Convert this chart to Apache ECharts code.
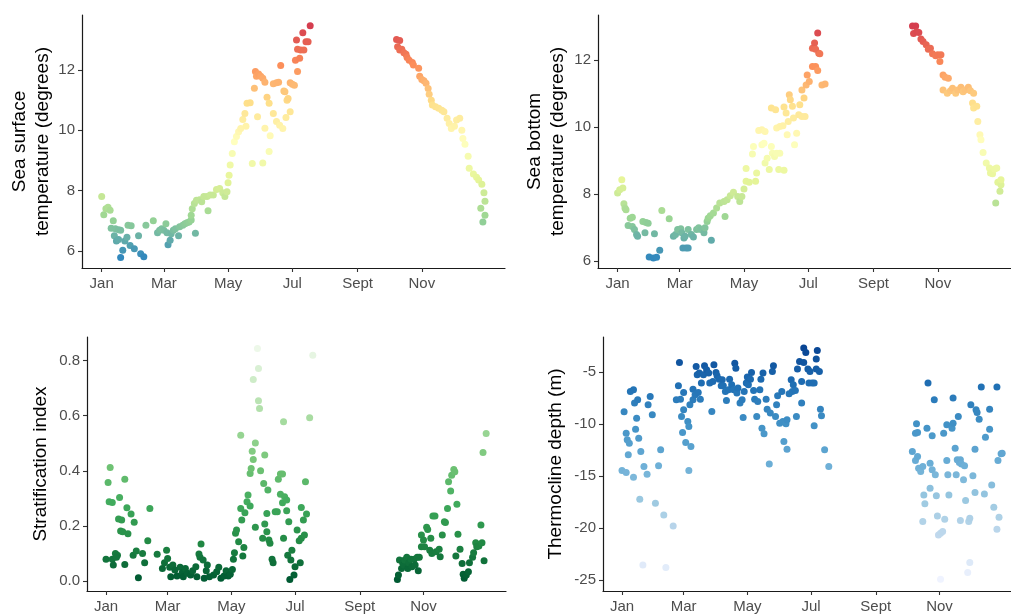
<!DOCTYPE html>
<html>
<head>
<meta charset="utf-8">
<script src="https://cdn.jsdelivr.net/npm/echarts@6/dist/echarts.min.js"></script>
<style>
  html, body { margin: 0; padding: 0; background: #ffffff; }
  #chart { width: 1011px; height: 614px; }
</style>
</head>
<body>
<div id="chart"></div>
<script>
// Day-of-year tick positions and their month names
const monthTicks = [1, 60, 121, 182, 244, 305];
const monthLabels = ['Jan', 'Mar', 'May', 'Jul', 'Sept', 'Nov'];

// Y tick values for each panel
const surfaceTicks = [6, 8, 10, 12];
const bottomTicks = [6, 8, 10, 12];
const stratTicks = [0, 0.2, 0.4, 0.6, 0.8];
const thermoTicks = [-25, -20, -15, -10, -5];

// Sea surface temperature: [day of year, degrees]
const surfaceTemp = [
  [1,7.8],[3,7.2],[5,7.4],[7,7.45],[9,7.35],[12,7.0],[10,6.75],[14,6.73],[17,6.7],[19,6.68],
  [13,6.5],[15,6.33],[17,6.38],[19,5.78],[21,6.02],[23,6.33],[25,6.45],[26,6.85],[29,6.83],[28,6.18],
  [32,6.07],[36,6.5],[38,5.9],[41,5.8],[43,6.85],[50,7.0],[54,6.6],[56,6.68],[58,6.73],[60,6.68],
  [62,6.9],[63,6.6],[64,6.2],[66,6.35],[67,6.57],[69,6.68],[71,6.73],[74,6.5],[75,6.8],[78,6.85],
  [80,6.9],[82,6.93],[84,6.96],[86,7.02],[90,6.58],[86,7.18],[87,7.4],[89,7.57],[91,7.68],[94,7.7],
  [96,7.63],[98,7.8],[102,7.33],[101,7.8],[104,7.85],[107,7.85],[110,8.04],[113,8.07],[116,7.93],[118,7.8],
  [120,7.96],[121,8.26],[122,8.51],[123,8.85],[125,9.23],[127,9.62],[129,9.8],[131,9.95],[133,10.06],[135,10.36],
  [137,10.56],[138,10.14],[139,10.9],[142,10.92],[144,8.9],[146,11.4],[147,11.95],[148,11.8],[150,11.87],[152,11.8],
  [154,11.73],[149,10.45],[154,8.92],[156,10.07],[156,11.6],[158,11.1],[160,9.3],[161,9.82],[160,10.9],[164,11.55],
  [167,11.58],[169,11.6],[171,12.15],[164,10.56],[167,10.29],[170,10.17],[173,10.06],[174,11.31],[175,11.28],[177,11.0],
  [178,11.06],[180,11.58],[182,11.53],[176,10.43],[180,10.62],[184,11.5],[185,12.33],[187,11.95],[186,13.0],[187,12.69],
  [189,12.39],[190,12.67],[193,12.67],[192,13.24],[195,12.94],[197,12.94],[199,13.47],
  [281,13.02],[284,12.98],[282,12.78],[284,12.67],[286,12.69],[288,12.58],[290,12.53],[291,12.42],[293,12.33],[296,12.25],
  [297,12.17],[302,12.06],[303,11.8],[305,11.69],[307,11.65],[309,11.56],[311,11.39],[312,11.2],[314,11.0],[315,10.84],
  [318,10.78],[321,10.73],[324,10.67],[326,10.62],[329,10.4],[331,10.23],[333,10.06],[336,10.14],[338,10.34],[341,10.4],
  [343,10.0],[344,9.73],[346,9.54],[349,9.14],[350,8.74],[354,8.55],[357,8.44],[359,8.35],[362,8.21],[364,7.93],
  [365,7.65],[361,7.41],[365,7.18],[363,6.96]
];

// Sea bottom temperature: [day of year, degrees]
const bottomTemp = [
  [1,8.03],[3,8.13],[5,8.43],[6,8.18],[7,7.71],[8,7.58],[9,7.53],[13,7.28],[15,7.31],[11,7.06],
  [15,7.03],[17,6.94],[19,6.79],[20,6.74],[25,7.18],[28,7.15],[30,7.13],[27,6.84],[31,6.12],[35,6.09],
  [38,6.11],[41,6.32],[36,6.81],[43,7.51],[50,7.26],[54,6.74],[56,6.79],[58,6.94],[61,6.96],[62,6.84],
  [64,6.69],[63,6.39],[66,6.39],[68,6.39],[65,6.74],[68,6.94],[71,6.79],[73,6.72],[76,6.94],[78,6.99],
  [80,6.94],[83,6.84],[84,6.99],[86,7.18],[87,7.28],[90,6.62],[89,7.35],[92,7.43],[95,7.58],[98,7.73],
  [102,7.78],[103,7.33],[105,7.83],[108,7.95],[111,8.05],[115,7.93],[117,7.78],[119,7.93],[121,8.15],[123,8.38],
  [123,8.76],[126,8.35],[129,9.2],[130,9.42],[132,8.38],[133,8.63],[135,9.9],[138,9.92],[141,9.87],[138,9.47],
  [140,9.52],[141,8.93],[143,9.07],[145,8.73],[147,9.42],[148,9.22],[150,9.12],[147,10.57],[151,10.52],[152,9.97],
  [152,9.22],[155,9.22],[154,8.73],[159,8.71],[155,10.02],[158,10.04],[159,10.6],[161,10.42],[162,9.77],[163,10.17],
  [164,10.97],[165,10.82],[167,10.62],[168,10.27],[169,9.47],[171,9.82],[173,10.37],[174,10.67],[176,11.11],[178,10.87],
  [180,11.26],[181,11.56],[183,11.36],[176,10.32],[179,10.32],[186,11.81],[189,11.81],[191,11.69],[192,12.21],[186,12.36],
  [188,12.51],[189,12.33],[191,12.81],[193,12.19],[195,11.26],[198,11.29],
  [281,13.02],[284,13.02],[282,12.8],[285,12.85],[287,12.83],[289,12.63],[291,12.56],[294,12.46],[296,12.33],[298,12.36],
  [300,12.19],[303,12.13],[305,12.16],[308,12.16],[307,11.96],[310,11.56],[312,11.49],[315,11.46],[310,11.11],[314,11.01],
  [317,11.09],[319,11.16],[322,11.01],[324,11.11],[327,11.19],[329,11.06],[331,11.11],[334,11.19],[336,11.09],[339,11.01],
  [338,10.72],[339,10.57],[342,10.62],[343,10.17],[345,9.77],[346,9.62],[348,9.24],[351,8.93],[354,8.78],[355,8.63],
  [357,8.61],[359,8.75],[361,8.78],[362,8.35],[364,8.08],[365,8.28],[365,8.43],[360,7.73]
];

// Stratification index: [day of year, index]
const stratification = [
  [3,0.357],[5,0.412],[4,0.288],[7,0.285],[1,0.079],[7,0.079],[8,0.058],[10,0.10],[12,0.094],[11,0.086],
  [14,0.303],[13,0.225],[16,0.221],[15,0.182],[17,0.179],[19,0.06],[19,0.369],[21,0.266],[22,0.172],[25,0.243],
  [27,0.094],[28,0.213],[30,0.109],[32,0.012],[36,0.10],[38,0.066],[41,0.146],[43,0.263],[50,0.097],
  [55,0.046],[57,0.066],[59,0.112],[60,0.082],[62,0.05],[63,0.016],[65,0.058],[67,0.04],[69,0.018],[72,0.05],
  [74,0.03],[75,0.016],[77,0.046],[79,0.028],[82,0.022],[84,0.037],[87,0.052],[88,0.016],[90,0.098],[91,0.086],
  [92,0.134],[94,0.076],[95,0.01],[97,0.037],[98,0.058],[100,0.016],[104,0.022],[107,0.034],[109,0.05],[111,0.01],
  [114,0.018],[116,0.037],[118,0.018],[120,0.025],[122,0.042],[123,0.079],[124,0.103],[125,0.173],[126,0.185],[128,0.143],
  [130,0.263],[131,0.221],[132,0.091],[133,0.122],[130,0.529],[134,0.248],[136,0.288],[137,0.312],[139,0.272],[139,0.39],
  [140,0.408],[141,0.471],[142,0.441],[142,0.731],[144,0.501],[144,0.195],[146,0.843],[147,0.771],[147,0.654],[148,0.626],
  [149,0.4],[151,0.155],[152,0.354],[153,0.457],[153,0.207],[155,0.179],[156,0.33],[157,0.149],[158,0.137],[160,0.079],
  [161,0.066],[155,0.245],[163,0.251],[165,0.251],[166,0.369],[168,0.388],[170,0.388],[168,0.315],[170,0.284],[171,0.578],
  [171,0.155],[172,0.306],[174,0.255],[174,0.294],[176,0.215],[175,0.094],[177,0.006],[178,0.076],[179,0.112],[181,0.022],
  [182,0.052],[184,0.185],[186,0.146],[187,0.066],[188,0.155],[188,0.267],[190,0.221],[191,0.167],[192,0.36],[193,0.243],
  [196,0.592],[199,0.819],
  [280,0.006],[281,0.022],[282,0.076],[284,0.046],[285,0.066],[286,0.058],[287,0.076],[289,0.086],[290,0.046],[291,0.066],
  [293,0.079],[294,0.052],[296,0.079],[297,0.058],[299,0.086],[300,0.037],[301,0.086],[303,0.124],[303,0.167],[305,0.149],
  [306,0.124],[308,0.195],[309,0.187],[311,0.112],[312,0.155],[313,0.10],[314,0.236],[316,0.236],[317,0.106],[320,0.115],
  [321,0.088],[323,0.167],[325,0.215],[326,0.212],[328,0.263],[329,0.36],[331,0.327],[332,0.384],[334,0.405],[335,0.396],
  [337,0.279],[338,0.17],[336,0.091],[340,0.115],[342,0.064],[343,0.025],[344,0.01],[346,0.022],[348,0.034],[349,0.066],
  [352,0.086],[353,0.103],[355,0.139],[356,0.124],[358,0.127],[360,0.203],[361,0.139],[362,0.466],[363,0.074],[365,0.535]
];

// Thermocline depth: [day of year, metres]
const thermocline = [
  [1,-14.49],[5,-14.68],[3,-8.85],[5,-10.9],[6,-11.54],[8,-11.86],[7,-12.98],[9,-6.89],[12,-6.73],[12,-15.13],
  [13,-8.0],[15,-9.46],[16,-7.69],[14,-10.51],[17,-11.38],[18,-17.24],[19,-12.66],[21,-23.56],[22,-14.1],[25,-14.84],
  [26,-8.17],[28,-7.37],[30,-9.13],[33,-17.63],[36,-14.04],[38,-12.5],[41,-18.75],[43,-23.81],[50,-19.81],
  [53,-7.69],[57,-7.63],[56,-4.1],[55,-6.35],[58,-9.29],[59,-10.83],[60,-8.65],[60,-6.99],[62,-11.79],[64,-9.78],
  [65,-10.26],[65,-14.49],[66,-8.17],[67,-12.18],[69,-7.69],[69,-6.67],[71,-7.21],[72,-4.49],[73,-5.29],[74,-6.99],
  [75,-5.13],[76,-7.63],[77,-6.09],[79,-5.29],[80,-4.42],[82,-4.81],[84,-5.13],[85,-6.09],[87,-8.81],[88,-5.93],
  [89,-4.33],[91,-5.06],[92,-5.38],[94,-5.71],[96,-6.35],[97,-5.77],[98,-6.35],[100,-6.89],[101,-7.76],[103,-6.73],
  [104,-5.71],[106,-6.25],[108,-6.73],[109,-4.17],[110,-4.65],[111,-7.05],[112,-6.57],[114,-8.01],[116,-7.69],[117,-9.39],
  [118,-6.89],[120,-6.09],[121,-5.51],[122,-6.25],[124,-5.71],[125,-5.06],[127,-6.79],[128,-7.63],[130,-9.29],[131,-7.85],
  [133,-6.73],[134,-5.71],[135,-10.42],[136,-5.13],[137,-10.96],[139,-7.63],[140,-8.59],[142,-13.85],[143,-8.97],[145,-4.97],
  [146,-4.42],[148,-9.29],[149,-8.17],[150,-7.31],[152,-9.94],[154,-6.89],[155,-9.78],[156,-11.7],[158,-10.0],[159,-12.44],
  [159,-9.62],[161,-7.12],[163,-5.77],[164,-6.89],[165,-6.25],[167,-6.79],[168,-9.29],[169,-4.74],[171,-4.01],[173,-5.93],
  [173,-8.01],[175,-4.1],[175,-2.72],[177,-3.14],[179,-4.74],[180,-6.09],[181,-4.97],[183,-6.09],[185,-6.09],[185,-10.19],
  [187,-4.74],[187,-3.78],[188,-2.95],[190,-4.97],[191,-8.59],[192,-9.23],[195,-12.5],[199,-14.1],
  [279,-12.66],[282,-10.9],[283,-10.0],[284,-10.83],[282,-13.53],[284,-13.14],[285,-14.26],[287,-14.58],[289,-14.1],[290,-16.83],
  [291,-17.69],[289,-19.39],[293,-10.42],[294,-6.09],[296,-13.78],[296,-16.19],[298,-11.15],[298,-14.42],[300,-7.69],[301,-14.9],
  [302,-16.92],[303,-18.85],[304,-20.67],[306,-20.51],[308,-20.35],[306,-24.94],[310,-19.17],[309,-10.9],[312,-10.1],[312,-13.53],
  [313,-14.9],[314,-16.83],[317,-10.42],[318,-7.53],[318,-9.94],[320,-12.34],[321,-14.9],[322,-13.46],[323,-9.29],[324,-13.72],
  [325,-13.46],[326,-13.85],[328,-15.38],[329,-14.04],[330,-17.37],[325,-19.29],[332,-24.29],[334,-23.33],[333,-19.39],[334,-19.07],
  [335,-8.17],[337,-15.0],[339,-12.44],[339,-16.6],[340,-8.65],[341,-8.91],[343,-9.55],[345,-6.47],[348,-16.73],[349,-11.28],
  [353,-8.59],[353,-10.51],[355,-15.87],[357,-18.01],[360,-6.47],[360,-20.13],[361,-13.53],[362,-18.97],[364,-12.88],[365,-12.82]
];

// Colour ramps (low -> high)
const spectralRamp = ['#3288bd', '#99d594', '#e6f598', '#ffffbf', '#fee08b', '#fc8d59', '#d53e4f'];
const greensRamp = ['#005a32', '#238b45', '#41ab5d', '#74c476', '#a1d99b', '#c7e9c0', '#edf8e9'];
const bluesRamp = ['#eff3ff', '#c6dbef', '#9ecae1', '#6baed6', '#4292c6', '#2171b5', '#084594'];

const FONT = '"Liberation Sans", Arial, sans-serif';
const tickColor = '#4d4d4d';

function colMin(arr) { return Math.min.apply(null, arr.map(d => d[1])); }
function colMax(arr) { return Math.max.apply(null, arr.map(d => d[1])); }

function panelGrid(left, top, width, height) {
  return { left: left, top: top, width: width, height: height, containLabel: false, outerBoundsMode: 'none' };
}

function xAxisFor(gridIndex, min, max) {
  return {
    type: 'value', gridIndex: gridIndex, min: min, max: max,
    splitLine: { show: false },
    axisLine: { show: true, onZero: false, lineStyle: { color: '#1a1a1a', width: 1.2 } },
    axisTick: { show: true, length: 4, customValues: monthTicks, lineStyle: { color: '#333333', width: 1.1 } },
    axisLabel: {
      customValues: monthTicks, margin: 8, color: tickColor, fontSize: 15, fontFamily: FONT,
      formatter: v => monthLabels[monthTicks.indexOf(v)]
    }
  };
}

function yAxisFor(gridIndex, min, max, ticks, name, gap, fmt) {
  return {
    type: 'value', gridIndex: gridIndex, min: min, max: max,
    name: name, nameLocation: 'middle', nameGap: gap, nameRotate: 90,
    nameTextStyle: { color: '#000000', fontSize: 19, fontFamily: FONT, lineHeight: 23 },
    splitLine: { show: false },
    axisLine: { show: true, onZero: false, lineStyle: { color: '#1a1a1a', width: 1.2 } },
    axisTick: { show: true, length: 4, customValues: ticks, lineStyle: { color: '#333333', width: 1.1 } },
    axisLabel: {
      customValues: ticks, margin: 7, color: tickColor, fontSize: 15, fontFamily: FONT,
      formatter: fmt
    }
  };
}

function scatter(idx, data) {
  return {
    type: 'scatter', xAxisIndex: idx, yAxisIndex: idx, data: data,
    symbol: 'circle', symbolSize: 7,
    itemStyle: { opacity: 1 }
  };
}

function ramp(idx, data, colors) {
  return {
    type: 'continuous', show: false, seriesIndex: idx, dimension: 1,
    min: colMin(data), max: colMax(data), inRange: { color: colors }
  };
}

const chart = echarts.init(document.getElementById('chart'), null, { renderer: 'canvas' });

chart.setOption({
  animation: false,
  backgroundColor: '#ffffff',
  grid: [
    panelGrid(82, 15, 423, 253),
    panelGrid(598, 15, 423, 253),
    panelGrid(87, 337, 419, 254),
    panelGrid(603, 337, 419, 254)
  ],
  xAxis: [
    xAxisFor(0, -17.7, 384),
    xAxisFor(1, -17.6, 384),
    xAxisFor(2, -17.2, 384),
    xAxisFor(3, -17.2, 384)
  ],
  yAxis: [
    yAxisFor(0, 5.43, 13.83, surfaceTicks, 'Sea surface\ntemperature (degrees)', 28, v => String(v)),
    yAxisFor(1, 5.79, 13.35, bottomTicks, 'Sea bottom\ntemperature (degrees)', 29, v => String(v)),
    yAxisFor(2, -0.036, 0.885, stratTicks, 'Stratification index', 35, v => v.toFixed(1)),
    yAxisFor(3, -26.06, -1.66, thermoTicks, 'Thermocline depth (m)', 36, v => String(v))
  ],
  visualMap: [
    ramp(0, surfaceTemp, spectralRamp),
    ramp(1, bottomTemp, spectralRamp),
    ramp(2, stratification, greensRamp),
    ramp(3, thermocline, bluesRamp)
  ],
  series: [
    scatter(0, surfaceTemp),
    scatter(1, bottomTemp),
    scatter(2, stratification),
    scatter(3, thermocline)
  ]
});
</script>
</body>
</html>
